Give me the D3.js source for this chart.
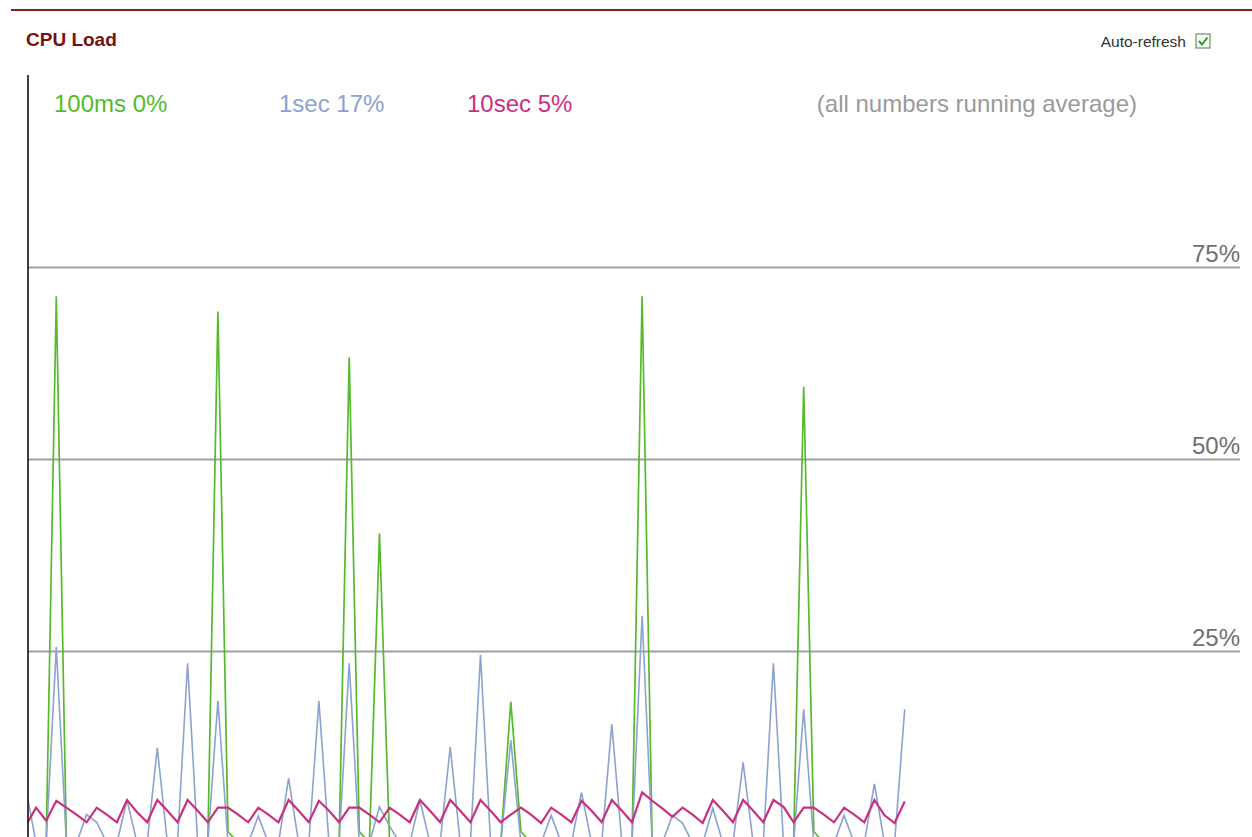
<!DOCTYPE html>
<html>
<head>
<meta charset="utf-8">
<title>CPU Load</title>
<script src="https://cdn.jsdelivr.net/npm/d3@7"></script>
<style>
  html, body { margin: 0; padding: 0; background: #ffffff; }
  svg { display: block; font-family: "Liberation Sans", Arial, sans-serif; }
</style>
</head>
<body>
<svg id="chart" width="1252" height="837"></svg>
<script>
// Sample slots across the full plot width; only the first ones are filled so far
const slotCount = 120;

// 100ms running average (%)
const load100ms = [
  0, 0, 0, 71.2, 0, 0, 0, 0, 0, 0,
  0, 0, 0, 0, 0, 0, 0, 0, 0, 69.2,
  1.5, 0, 0, 0, 0, 0, 0, 0, 0, 0,
  0, 0, 63.2, 1.5, 0, 40.3, 0, 0, 0, 0,
  0, 0, 0, 0, 0, 0, 0, 0, 18.4, 1.5,
  0, 0, 0, 0, 0, 0, 0, 0, 0, 0,
  0, 71.2, 0, 0, 0, 0, 0, 0, 0, 0,
  0, 0, 0, 0, 0, 0, 0, 59.4, 1.5, 0,
  0, 0, 0, 0, 0, 0, 0, 0
];

// 1sec running average (%)
const load1sec = [
  7, 0, 0, 25.5, 0, 0, 3.7, 2.7, 0, 0,
  5.6, 0, 0, 12.4, 0, 0, 23.4, 0, 0, 18.5,
  0, 0, 0, 3.5, 0, 0, 8.4, 0, 0, 18.5,
  0, 0, 23.4, 0, 0, 4.7, 2.2, 0, 0, 5.6,
  0, 0, 12.5, 0, 0, 24.5, 0, 0, 13.4, 0,
  0, 0, 3.6, 0, 0, 6.6, 0, 0, 15.5, 0,
  0, 29.6, 0, 0, 3.6, 2.6, 0, 0, 4.5, 0,
  0, 10.5, 0, 0, 23.4, 0, 0, 17.4, 0, 0,
  0, 3.6, 0, 0, 7.7, 0, 0, 17.4
];

// 10sec running average (%)
const load10sec = [
  2.3, 4.6, 2.9, 5.5, 4.6, 3.7, 2.7, 4.6, 3.7, 2.7,
  5.6, 4.0, 2.7, 5.6, 4.2, 2.7, 5.6, 4.2, 2.7, 4.6,
  4.6, 3.7, 2.7, 4.6, 3.7, 2.7, 5.6, 4.2, 2.7, 5.5,
  4.2, 2.7, 4.6, 4.6, 3.7, 2.7, 4.6, 3.7, 2.7, 5.6,
  4.2, 2.7, 5.6, 4.2, 2.7, 5.6, 4.2, 2.7, 3.7, 4.6,
  3.7, 2.6, 4.6, 3.7, 2.7, 5.5, 4.2, 2.7, 5.6, 4.2,
  2.7, 6.6, 5.5, 4.5, 3.4, 4.6, 3.7, 2.6, 5.6, 4.2,
  2.7, 5.6, 4.2, 2.7, 5.6, 4.7, 2.7, 4.6, 4.6, 3.7,
  2.7, 4.6, 3.7, 2.7, 5.6, 3.6, 2.6, 5.4
];

const gridValues = [25, 50, 75];
const gridLabels = ["25%", "50%", "75%"];

const seriesNames = ["100ms", "1sec", "10sec"];
const seriesColors = ["#55ba2c", "#8ca2cf", "#c9307f"];
const seriesWidths = [1.7, 1.6, 2.2];
const seriesData = [load100ms, load1sec, load10sec];

const svg = d3.select("#chart");

// Plot geometry
const plotLeft = 28, plotRight = 1240, plotTop = 75, plotBottom = 843;

const x = d3.scaleLinear().domain([0, slotCount]).range([26, 26 + 10.1 * slotCount]);
const y = d3.scaleLinear().domain([0, 100]).range([plotBottom, plotTop]);

// Header rule and title
svg.append("line")
  .attr("x1", 11).attr("x2", 1252).attr("y1", 10).attr("y2", 10)
  .attr("stroke", "#8a1c1c").attr("stroke-width", 2);

svg.append("text")
  .attr("x", 26).attr("y", 46)
  .attr("font-size", 19).attr("font-weight", "bold")
  .attr("fill", "#7a1010")
  .text("CPU Load");

// Auto-refresh control
svg.append("text")
  .attr("x", 1186).attr("y", 47)
  .attr("text-anchor", "end")
  .attr("font-size", 15.5).attr("fill", "#333")
  .text("Auto-refresh");

const cb = svg.append("g").attr("transform", "translate(1196,34)");
cb.append("rect").attr("width", 14).attr("height", 14)
  .attr("fill", "#f4fbf2").attr("stroke", "#6f8f6f").attr("stroke-width", 1.2);
cb.append("path").attr("d", "M3,7 L6,10.5 L11.5,3.5")
  .attr("fill", "none").attr("stroke", "#2f9a2f").attr("stroke-width", 2);

// Clip for the plotted lines
svg.append("defs").append("clipPath").attr("id", "plotClip")
  .append("rect")
  .attr("x", plotLeft).attr("y", 0)
  .attr("width", plotRight - plotLeft).attr("height", plotBottom);

// Grid lines with percent labels
const grid = svg.append("g");
grid.selectAll("line").data(gridValues).join("line")
  .attr("x1", plotLeft).attr("x2", plotRight)
  .attr("y1", d => Math.round(y(d)) + 0.5).attr("y2", d => Math.round(y(d)) + 0.5)
  .attr("stroke", "#a0a0a0").attr("stroke-width", 2);
grid.selectAll("text").data(gridValues).join("text")
  .attr("x", plotRight).attr("y", d => y(d) - 5)
  .attr("text-anchor", "end")
  .attr("font-size", 24).attr("fill", "#707070")
  .text((d, i) => gridLabels[i]);

// Series lines
const line = d3.line().x((d, i) => x(i)).y(d => y(d));
const linesG = svg.append("g").attr("clip-path", "url(#plotClip)");
seriesData.forEach((data, k) => {
  linesG.append("path")
    .datum(data)
    .attr("d", line)
    .attr("fill", "none")
    .attr("stroke", seriesColors[k])
    .attr("stroke-width", seriesWidths[k])
    .attr("stroke-linejoin", "miter");
});

// Vertical axis line
svg.append("line")
  .attr("x1", plotLeft).attr("x2", plotLeft)
  .attr("y1", plotTop).attr("y2", 837)
  .attr("stroke", "#111").attr("stroke-width", 1.6);

// Legend: latest value of each series
const legendX = [54, 279, 467];
seriesData.forEach((data, k) => {
  svg.append("text")
    .attr("x", legendX[k]).attr("y", 112)
    .attr("font-size", 24).attr("fill", seriesColors[k])
    .text(seriesNames[k] + " " + Math.round(data[data.length - 1]) + "%");
});
svg.append("text")
  .attr("x", 1137).attr("y", 112)
  .attr("text-anchor", "end")
  .attr("font-size", 24).attr("fill", "#9a9a9a")
  .text("(all numbers running average)");
</script>
</body>
</html>
